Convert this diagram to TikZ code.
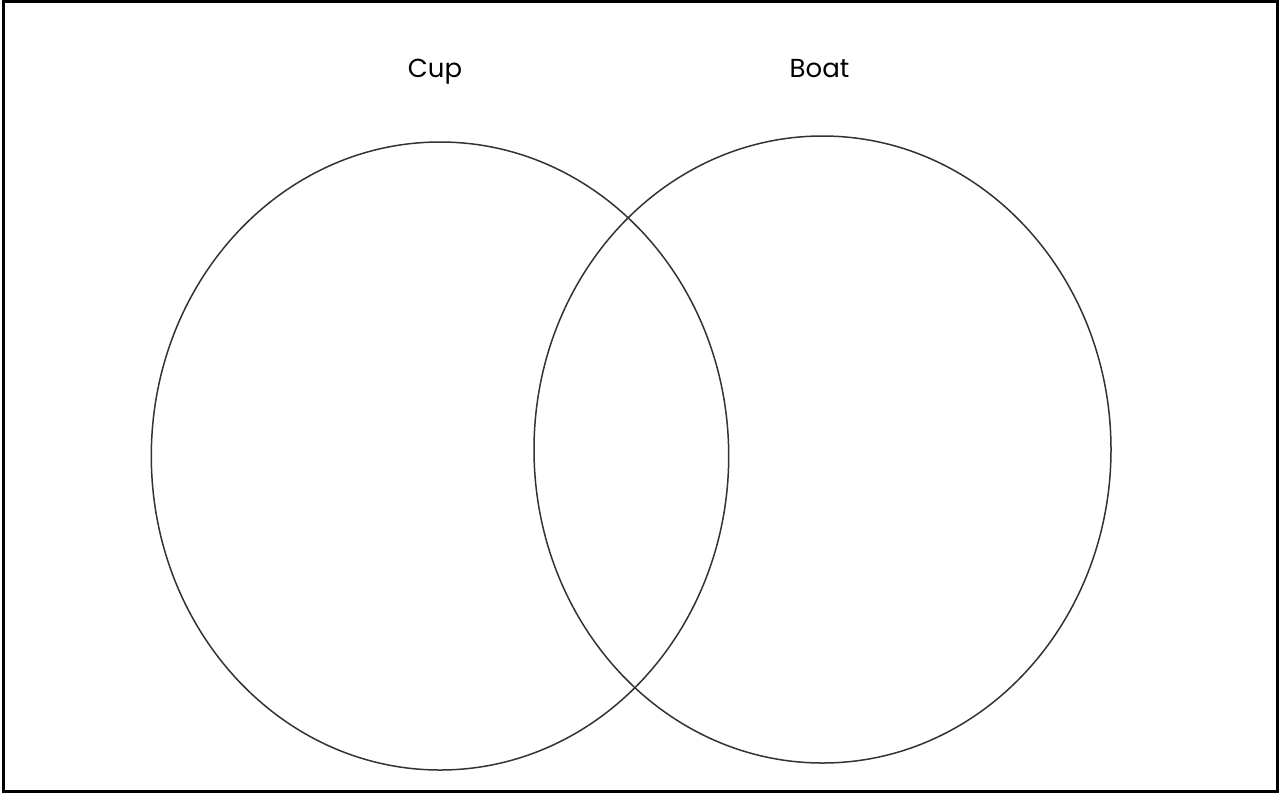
\documentclass[tikz,border=0pt]{standalone}
\usepackage{fontspec}
\setmainfont{Poppins}
\usetikzlibrary{shapes.geometric}
\begin{document}
\begin{tikzpicture}[x=1pt,y=-1pt,
  setring/.style={draw=black!80,line width=1.5pt,ellipse,inner sep=0pt,outer sep=0pt},
  lbl/.style={font=\fontsize{26}{30}\selectfont,anchor=base,inner sep=0pt}]
\useasboundingbox (0,0) rectangle (1279,793);
\draw[line width=3pt] (3,1.5) rectangle (1277,791.5);
\node[setring,minimum width=577.4pt,minimum height=628pt] (cupset) at (440,456) {};
\node[setring,minimum width=577pt,minimum height=627pt] (boatset) at (822.5,449.5) {};
\node[lbl] (cup) at (435,77) {Cup};
\node[lbl] (boat) at (819.5,77) {Boat};
\end{tikzpicture}
\end{document}
